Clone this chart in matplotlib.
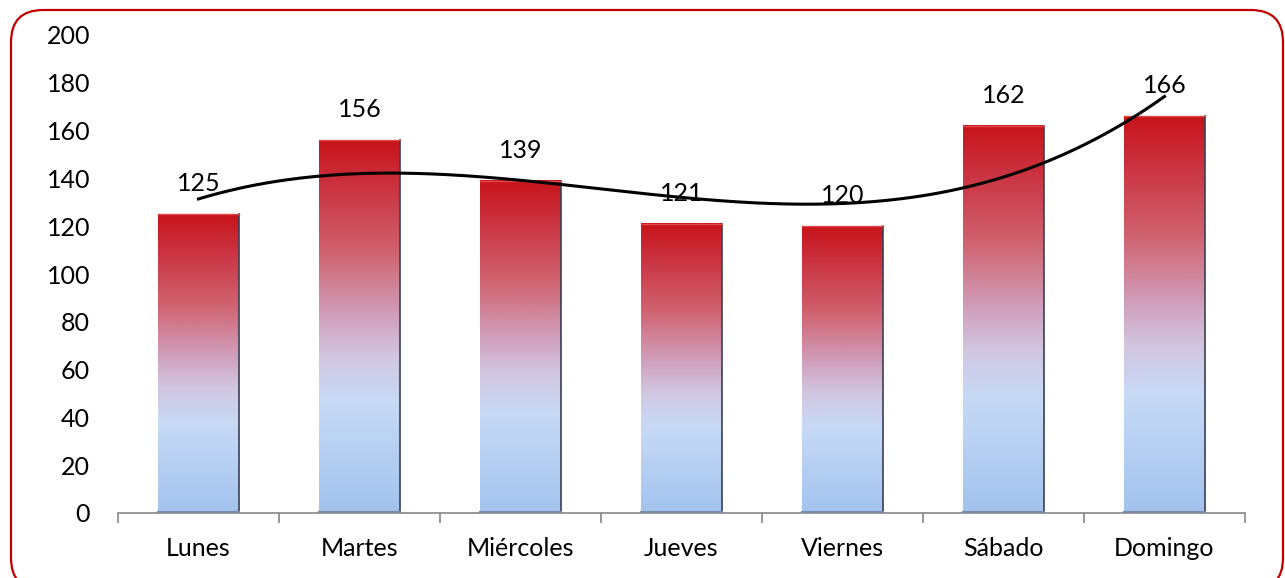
import numpy as np
import matplotlib.pyplot as plt
from matplotlib.colors import LinearSegmentedColormap
from matplotlib.patches import FancyBboxPatch

plt.rcParams['font.family'] = ['Lato', 'DejaVu Sans']

days = ['Lunes', 'Martes', 'Miércoles', 'Jueves', 'Viernes', 'Sábado', 'Domingo']
values = [125, 156, 139, 121, 120, 162, 166]

# bar fill: light blue at the base, red at the top
bar_cmap = LinearSegmentedColormap.from_list('bar', [
    (0.0, '#A2C3EE'), (0.3, '#C7DAF6'), (0.42, '#D2C6E0'), (0.52, '#D0A2BF'),
    (0.7, '#D0626F'), (0.87, '#CB3442'), (1.0, '#C8141B')])

fig = plt.figure(figsize=(12.85, 5.78), dpi=100)
ax = fig.add_axes([118 / 1285, 65 / 578, 1127 / 1285, 478 / 578])

x = np.arange(len(days))
width = 0.5
grad = np.linspace(0, 1, 256).reshape(-1, 1)
for xi, v in zip(x, values):
    ax.imshow(grad, cmap=bar_cmap, origin='lower', aspect='auto',
              extent=(xi - width / 2, xi + width / 2, 0, v), zorder=2)
    # darker right and bottom edge for the bevel look
    ax.plot([xi + width / 2, xi + width / 2], [0, v], color='#3A3F55', lw=1.2, zorder=3)
    ax.plot([xi - width / 2, xi + width / 2], [0.4, 0.4], color='#7C8BA8', lw=1.5, zorder=3)
    ax.plot([xi - width / 2, xi + width / 2], [v, v], color='#E04848', lw=1.0, zorder=3)
    ax.text(xi, v + 8, str(v), ha='center', va='bottom', fontsize=18, zorder=5)

# polynomial trendline through the weekly values
coef = np.polyfit(x + 1, values, 3)
xs = np.linspace(0, len(days) - 1, 200)
ax.plot(xs, np.polyval(coef, xs + 1), color='black', lw=2.2, zorder=4)

ax.set_xlim(-0.5, len(days) - 0.5)
ax.set_ylim(0, 200)
ax.set_yticks(range(0, 201, 20))
ax.set_xticks(x)
ax.set_xticklabels(days)
ax.set_xticks(np.arange(-0.5, len(days), 1), minor=True)
ax.tick_params(axis='x', which='major', length=0, pad=17, labelsize=18)
ax.tick_params(axis='x', which='minor', length=7, color='#868686', width=1.2)
ax.tick_params(axis='y', length=0, pad=20, labelsize=18)
for s in ['top', 'right', 'left']:
    ax.spines[s].set_visible(False)
ax.spines['bottom'].set_color('#868686')
ax.spines['bottom'].set_linewidth(1.2)

# rounded red frame, bottom edge runs just past the image
frame = FancyBboxPatch((11 / 1285, -12 / 578), 1272 / 1285, 580 / 578,
                       boxstyle='round,pad=0,rounding_size=0.025',
                       transform=fig.transFigure, fill=False, ec='#C00000', lw=1.6,
                       mutation_aspect=1285 / 578, clip_on=False)
fig.patches.append(frame)

fig.savefig('out.png', dpi=100)
